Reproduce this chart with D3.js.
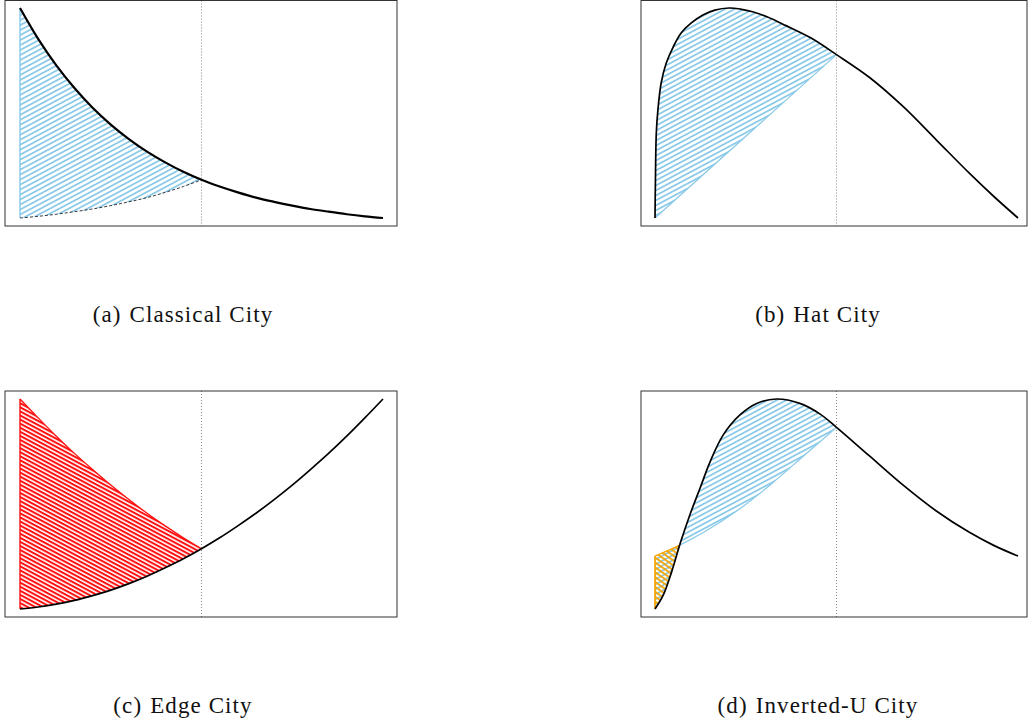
<!DOCTYPE html>
<html>
<head>
<meta charset="utf-8">
<script src="https://cdn.jsdelivr.net/npm/d3@7"></script>
<style>
  html, body { margin: 0; padding: 0; background: #fff; }
  svg { display: block; }
  .cap { font-family: "Liberation Serif", "DejaVu Serif", serif; font-size: 23px; letter-spacing: 1.1px; fill: #111; }
</style>
</head>
<body>
<svg id="chart" width="1028" height="724"></svg>
<script>
// ---------- data (x = distance 0..1, y = relative level 0..1) ----------
const classicalT = [0, 0.05, 0.1, 0.15, 0.2, 0.25, 0.3, 0.35, 0.4, 0.45, 0.5, 0.55, 0.6, 0.65, 0.7, 0.75, 0.8, 0.85, 0.9, 0.95, 1];
const classicalV = [1.0, 0.853, 0.727, 0.619, 0.525, 0.445, 0.376, 0.316, 0.265, 0.220, 0.182, 0.150, 0.122, 0.097, 0.077, 0.059, 0.043, 0.030, 0.018, 0.008, 0.0];

const hatT = [0, 0.001, 0.0036, 0.008, 0.017, 0.031, 0.05, 0.072, 0.1, 0.132, 0.165, 0.204, 0.235, 0.269, 0.31, 0.361, 0.43, 0.5, 0.592, 0.684, 0.776, 0.868, 0.935, 1.0];
const hatV = [0, 0.148, 0.405, 0.514, 0.643, 0.738, 0.814, 0.881, 0.929, 0.967, 0.99, 1.0, 0.995, 0.982, 0.957, 0.916, 0.857, 0.778, 0.668, 0.53, 0.37, 0.21, 0.10, 0];
// straight lower edge of the shaded area in (b)
const hatLowerT = [0, 0.5];
const hatLowerV = [0, 0.778];

const edgeT = [0, 0.05, 0.1, 0.15, 0.2, 0.25, 0.3, 0.35, 0.4, 0.45, 0.5, 0.55, 0.6, 0.65, 0.7, 0.75, 0.8, 0.85, 0.9, 0.95, 1];
const edgeV = [0, 0.0095, 0.023, 0.041, 0.064, 0.090, 0.121, 0.156, 0.196, 0.239, 0.287, 0.339, 0.396, 0.456, 0.521, 0.590, 0.664, 0.741, 0.823, 0.910, 1.0];

const invUT = [0, 0.023, 0.046, 0.071, 0.096, 0.124, 0.152, 0.188, 0.234, 0.28, 0.335, 0.399, 0.455, 0.5, 0.59, 0.682, 0.774, 0.866, 0.933, 1.0];
const invUV = [0, 0.067, 0.178, 0.321, 0.448, 0.575, 0.702, 0.829, 0.924, 0.979, 1.0, 0.979, 0.928, 0.865, 0.73, 0.592, 0.468, 0.365, 0.303, 0.252];
const invUCross = 0.068;   // where the curve meets its mirror image

const captionLabels = ["(a)", "(b)", "(c)", "(d)"];
const captionNames = ["Classical City", "Hat City", "Edge City", "Inverted-U City"];
const centreLine = 0.5;

// ---------- layout ----------
const svg = d3.select("#chart");
const BLUE = "#87c9e8", RED = "#ff1010", ORANGE = "#f5a300";

const defs = svg.append("defs");
function hatch(id, color, period, sw, angle) {
  const p = defs.append("pattern").attr("id", id)
    .attr("patternUnits", "userSpaceOnUse")
    .attr("width", 10).attr("height", period)
    .attr("patternTransform", `rotate(${angle})`);
  p.append("rect").attr("x", 0).attr("y", 0).attr("width", 10).attr("height", sw).attr("fill", color);
}
hatch("hBlue", BLUE, 4.4, 1.7, -28);
hatch("hRed", RED, 3.6, 2.0, 28);
hatch("hOrange", ORANGE, 4.0, 1.8, 35);

const panels = [
  { T: classicalT, V: classicalV, fx: 5,   fy: 0.5, fw: 392, fh: 225.5, x0: 20,  y0: 218, y1: 8,   kind: "a", cx: 183, cy: 322 },
  { T: hatT,       V: hatV,       fx: 641, fy: 0.5, fw: 386, fh: 225.5, x0: 655, y0: 218, y1: 8,   kind: "b", cx: 818, cy: 322 },
  { T: edgeT,      V: edgeV,      fx: 5,   fy: 391, fw: 392, fh: 226,   x0: 20,  y0: 609, y1: 399, kind: "c", cx: 183, cy: 713 },
  { T: invUT,      V: invUV,      fx: 641, fy: 391, fw: 386, fh: 226,   x0: 655, y0: 609, y1: 399, kind: "d", cx: 818, cy: 713 }
];

panels.forEach((P, i) => {
  const g = svg.append("g");
  const x = d3.scaleLinear().domain([0, 1]).range([P.x0, P.x0 + 363]);
  const y = d3.scaleLinear().domain([0, 1]).range([P.y0, P.y1]);
  const line = d3.line().x(d => x(d[0])).y(d => y(d[1])).curve(d3.curveCatmullRom.alpha(0.5));
  const straight = d3.line().x(d => x(d[0])).y(d => y(d[1]));

  const pts = P.T.map((t, k) => [t, P.V[k]]);
  const inner = pts.filter(d => d[0] <= centreLine);
  let mirror = pts.filter(d => d[0] >= centreLine).map(d => [1 - d[0], d[1]]).sort((a, b) => a[0] - b[0]);
  let lowerGen = line;
  if (P.kind === "b") {
    mirror = hatLowerT.map((t, k) => [t, hatLowerV[k]]);
    lowerGen = straight;
  }

  const clipId = "clip" + i;
  defs.append("clipPath").attr("id", clipId).append("rect")
    .attr("x", P.fx).attr("y", P.fy).attr("width", P.fw).attr("height", P.fh);
  g.attr("clip-path", `url(#${clipId})`);

  const innerPath = line(inner);
  const mirrorBack = lowerGen(mirror.slice().reverse());
  const region = innerPath + "L" + mirrorBack.slice(1) + "Z";

  // frame
  svg.append("rect").attr("x", P.fx).attr("y", P.fy).attr("width", P.fw).attr("height", P.fh)
    .attr("fill", "none").attr("stroke", "#333").attr("stroke-width", 1);

  // centre dotted line
  g.append("line").attr("x1", x(centreLine)).attr("x2", x(centreLine))
    .attr("y1", P.fy).attr("y2", P.fy + P.fh)
    .attr("stroke", "#888").attr("stroke-width", 1).attr("stroke-dasharray", "1,2");

  const vIn0 = P.V[0], vMir0 = mirror[0][1];

  if (P.kind === "a" || P.kind === "b") {
    g.append("path").attr("d", region).attr("fill", "url(#hBlue)");
    if (P.kind === "a") {
      g.append("line").attr("x1", x(0)).attr("x2", x(0)).attr("y1", y(vIn0)).attr("y2", y(vMir0))
        .attr("stroke", BLUE).attr("stroke-width", 1.4);
      g.append("path").attr("d", lowerGen(mirror)).attr("fill", "none")
        .attr("stroke", "#222").attr("stroke-width", 0.9).attr("stroke-dasharray", "3,2");
    } else {
      g.append("path").attr("d", lowerGen(mirror)).attr("fill", "none")
        .attr("stroke", BLUE).attr("stroke-width", 1.2);
    }
  } else if (P.kind === "c") {
    g.append("path").attr("d", region).attr("fill", "url(#hRed)");
    g.append("line").attr("x1", x(0)).attr("x2", x(0)).attr("y1", y(vIn0)).attr("y2", y(vMir0))
      .attr("stroke", RED).attr("stroke-width", 1.4);
    g.append("path").attr("d", lowerGen(mirror)).attr("fill", "none")
      .attr("stroke", RED).attr("stroke-width", 1.3);
  } else {
    const cxp = x(invUCross);
    const cl = defs.append("clipPath").attr("id", "dLeft");
    cl.append("rect").attr("x", P.fx).attr("y", P.fy).attr("width", cxp - P.fx).attr("height", P.fh);
    const cr = defs.append("clipPath").attr("id", "dRight");
    cr.append("rect").attr("x", cxp).attr("y", P.fy).attr("width", P.fx + P.fw - cxp).attr("height", P.fh);

    g.append("path").attr("d", region).attr("fill", "url(#hBlue)");
    g.append("path").attr("d", region).attr("fill", "url(#hOrange)").attr("clip-path", "url(#dLeft)");
    g.append("path").attr("d", lowerGen(mirror)).attr("fill", "none")
      .attr("stroke", BLUE).attr("stroke-width", 1.2).attr("clip-path", "url(#dRight)");
    g.append("path").attr("d", lowerGen(mirror)).attr("fill", "none")
      .attr("stroke", ORANGE).attr("stroke-width", 1.5).attr("clip-path", "url(#dLeft)");
    g.append("line").attr("x1", x(0)).attr("x2", x(0)).attr("y1", y(vIn0)).attr("y2", y(vMir0))
      .attr("stroke", ORANGE).attr("stroke-width", 1.7);
  }

  // main curve
  g.append("path").attr("d", line(pts)).attr("fill", "none")
    .attr("stroke", "#000").attr("stroke-width", P.kind === "a" ? 2.2 : 1.7)
    .attr("stroke-linejoin", "round");

  // caption
  const t = svg.append("text").attr("class", "cap").attr("x", P.cx).attr("y", P.cy)
    .attr("text-anchor", "middle");
  t.append("tspan").text(captionLabels[i]);
  t.append("tspan").attr("dx", 8).text(captionNames[i]);
});
</script>
</body>
</html>
